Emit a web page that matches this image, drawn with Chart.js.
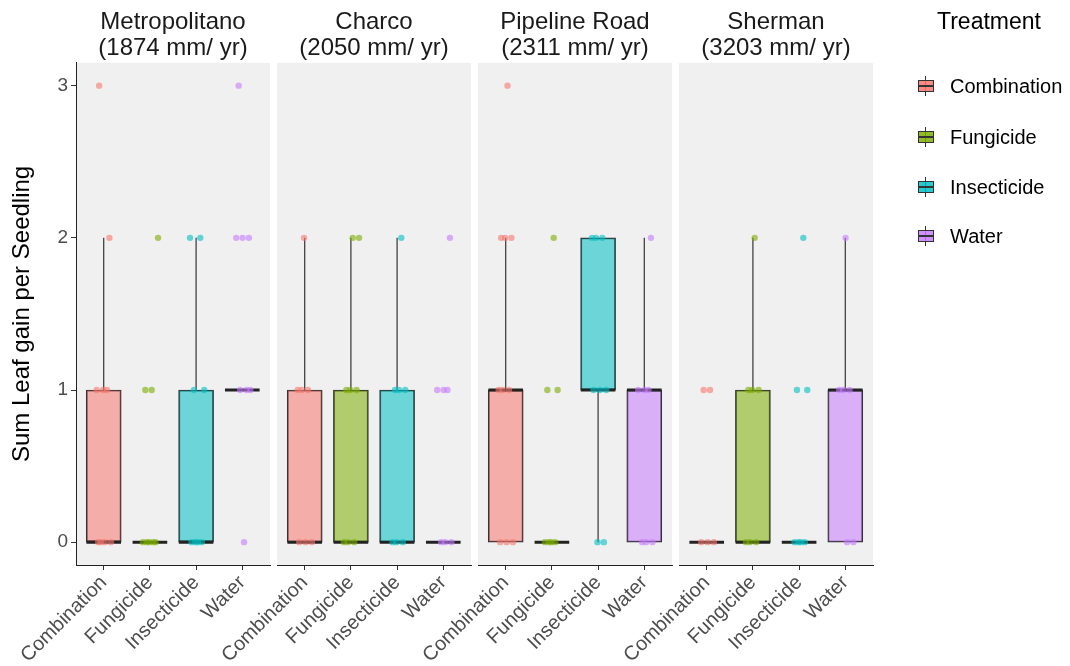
<!DOCTYPE html>
<html>
<head>
<meta charset="utf-8">
<script src="https://cdn.jsdelivr.net/npm/chart.js@4.4.1/dist/chart.umd.min.js"></script>
<style>
  body { margin: 0; background: #fff; font-family: "Liberation Sans", Arial, sans-serif; }
  #wrap { position: relative; width: 1070px; height: 666px; }
  #wrap canvas { position: absolute; left: 0; top: 0; }
  #legend { position: absolute; left: 905px; top: 0; width: 165px; height: 300px; }
  #legend .ttl { position: absolute; left: 32px; top: 8px; font-size: 23px; color: #000; }
  #legend .item { position: absolute; left: 45px; font-size: 20px; color: #000; line-height: 24px; }
  .key { position: absolute; left: 13px; width: 16px; height: 20px; }
  .key .wh { position: absolute; left: 7px; top: 0; width: 1px; height: 20px; background: #333; }
  .key .bx { position: absolute; left: 0; top: 4px; width: 14px; height: 10px; border: 1px solid #333; }
  .key .md { position: absolute; left: 0; top: 9px; width: 16px; height: 2px; background: #333; }
</style>
</head>
<body>
<div id="wrap">
  <canvas id="c0" width="1070" height="666"></canvas>
  <canvas id="c1" width="1070" height="666"></canvas>
  <canvas id="c2" width="1070" height="666"></canvas>
  <canvas id="c3" width="1070" height="666"></canvas>
  <div id="legend"></div>
</div>
<script>
// sites (facets) and treatments
var sites = [
  ['Metropolitano', '(1874 mm/ yr)'],
  ['Charco', '(2050 mm/ yr)'],
  ['Pipeline Road', '(2311 mm/ yr)'],
  ['Sherman', '(3203 mm/ yr)']
];
var treatments = ['Combination', 'Fungicide', 'Insecticide', 'Water'];
var colors = ['#F8766D', '#7CAE00', '#00BFC4', '#C77CFF'];
var yTicks = [0, 1, 2, 3];

// box statistics, one row per site, one value per treatment
var q1 =        [[0, 0, 0, 1], [0, 0, 0, 0], [0, 0, 1, 0], [0, 0, 0, 0]];
var medians =   [[0, 0, 0, 1], [0, 0, 0, 0], [1, 0, 1, 1], [0, 0, 0, 1]];
var q3 =        [[1, 0, 1, 1], [1, 1, 1, 0], [1, 0, 2, 1], [0, 1, 0, 1]];
var whiskLow =  [[0, 0, 0, 1], [0, 0, 0, 0], [0, 0, 0, 0], [0, 0, 0, 0]];
var whiskHigh = [[2, 0, 2, 1], [2, 2, 2, 0], [2, 0, 2, 2], [0, 2, 0, 2]];

// raw observations (jittered points)
var obs = [
  [[0, 0, 0, 0, 1, 1, 1, 2, 3], [0, 0, 0, 0, 0, 1, 1, 2], [0, 0, 0, 0, 1, 1, 2, 2], [0, 1, 1, 1, 2, 2, 2, 3]],
  [[0, 0, 0, 1, 1, 1, 2], [0, 0, 0, 1, 1, 1, 2, 2], [0, 0, 0, 1, 1, 1, 2], [0, 0, 0, 1, 1, 1, 2]],
  [[0, 0, 0, 1, 1, 1, 2, 2, 2, 3], [0, 0, 0, 0, 1, 1, 2], [0, 0, 1, 1, 1, 2, 2, 2], [0, 0, 0, 1, 1, 1, 2]],
  [[0, 0, 0, 1, 1], [0, 0, 0, 1, 1, 1, 2], [0, 0, 0, 0, 1, 1, 2], [0, 0, 1, 1, 1, 2]]
];

// panel pixel extents
var panelLeft = [76, 277, 478, 679];
var panelRight = [270, 471, 672, 873];

function alpha(hex, a) {
  var r = parseInt(hex.slice(1, 3), 16), g = parseInt(hex.slice(3, 5), 16), b = parseInt(hex.slice(5, 7), 16);
  return 'rgba(' + r + ',' + g + ',' + b + ',' + a + ')';
}
function jitter(k) {
  return (((k * 0.381966) + 0.17) % 1 - 0.5) * 0.36;
}

var panelBg = {
  id: 'panelBg',
  beforeDraw: function (chart) {
    var a = chart.chartArea, ctx = chart.ctx;
    ctx.save();
    ctx.fillStyle = '#F0F0F0';
    ctx.fillRect(a.left, a.top, a.right - a.left, a.bottom - a.top);
    ctx.restore();
  }
};

var boxExtras = {
  id: 'boxExtras',
  afterDatasetDraw: function (chart, args, opts) {
    if (args.index !== 0) return;
    var p = opts.panel, x = chart.scales.x, y = chart.scales.y, ctx = chart.ctx;
    var half = (x.getPixelForValue(1.375) - x.getPixelForValue(1));
    ctx.save();
    for (var t = 0; t < treatments.length; t++) {
      var cx = x.getPixelForValue(t + 1);
      ctx.strokeStyle = '#333';
      ctx.lineWidth = 1.2;
      ctx.beginPath();
      ctx.moveTo(cx, y.getPixelForValue(q3[p][t]));
      ctx.lineTo(cx, y.getPixelForValue(whiskHigh[p][t]));
      ctx.moveTo(cx, y.getPixelForValue(q1[p][t]));
      ctx.lineTo(cx, y.getPixelForValue(whiskLow[p][t]));
      ctx.stroke();
      ctx.strokeStyle = '#222';
      ctx.lineWidth = 3;
      ctx.beginPath();
      var my = y.getPixelForValue(medians[p][t]);
      ctx.moveTo(cx - half, my);
      ctx.lineTo(cx + half, my);
      ctx.stroke();
    }
    ctx.restore();
  }
};

function buildChart(p) {
  var datasets = [{
    type: 'bar',
    data: treatments.map(function (_, t) { return { x: t + 1, y: [q1[p][t], q3[p][t]] }; }),
    backgroundColor: colors.map(function (c) { return alpha(c, 0.55); }),
    borderColor: '#333',
    borderWidth: 1.2,
    borderSkipped: false,
    barThickness: 35,
    order: 2
  }];
  treatments.forEach(function (name, t) {
    datasets.push({
      type: 'scatter',
      label: name,
      data: obs[p][t].map(function (v, k) { return { x: t + 1 + jitter(k + t * 3), y: v }; }),
      backgroundColor: alpha(colors[t], 0.6),
      borderWidth: 0,
      pointRadius: 3.2,
      order: 1
    });
  });

  new Chart(document.getElementById('c' + p), {
    type: 'scatter',
    data: { datasets: datasets },
    plugins: [panelBg, boxExtras],
    options: {
      responsive: false,
      animation: false,
      devicePixelRatio: 1,
      layout: { padding: { left: p === 0 ? 0 : panelLeft[p], right: 1070 - panelRight[p], top: 0, bottom: 0 } },
      plugins: {
        legend: { display: false },
        tooltip: { enabled: false },
        boxExtras: { panel: p },
        title: {
          display: true,
          fullSize: false,
          text: sites[p],
          color: '#1a1a1a',
          font: { family: '"Liberation Sans", Arial, sans-serif', size: 24, weight: 'normal', lineHeight: 1.08 },
          padding: { top: 9, bottom: 2 }
        }
      },
      scales: {
        x: {
          type: 'linear',
          min: 0.4,
          max: 4.6,
          offset: false,
          afterBuildTicks: function (s) { s.ticks = treatments.map(function (_, i) { return { value: i + 1 }; }); },
          afterFit: function (s) { s.height = 101; },
          ticks: {
            autoSkip: false,
            minRotation: 45,
            maxRotation: 45,
            padding: 1,
            color: '#4D4D4D',
            font: { family: '"Liberation Sans", Arial, sans-serif', size: 20 },
            callback: function (v) { return treatments[v - 1]; }
          },
          grid: { display: true, offset: false, drawOnChartArea: false, drawTicks: true, tickLength: 5, tickColor: '#333' },
          border: { display: true, color: '#222', width: 1 }
        },
        y: {
          display: p === 0,
          min: -0.15,
          max: 3.15,
          afterBuildTicks: function (s) { s.ticks = yTicks.map(function (v) { return { value: v }; }); },
          afterFit: function (s) { if (p === 0) s.width = 76; },
          ticks: {
            padding: 3,
            color: '#4D4D4D',
            font: { family: '"Liberation Sans", Arial, sans-serif', size: 19 }
          },
          grid: { display: true, drawOnChartArea: false, drawTicks: true, tickLength: 5, tickColor: '#333' },
          border: { display: true, color: '#222', width: 1 },
          title: {
            display: true,
            text: 'Sum Leaf gain per Seedling',
            color: '#000',
            font: { family: '"Liberation Sans", Arial, sans-serif', size: 24 },
            padding: { top: 8, bottom: 0 }
          }
        }
      }
    }
  });
}

for (var p = 0; p < sites.length; p++) buildChart(p);

// legend
var legend = document.getElementById('legend');
var html = '<div class="ttl">Treatment</div>';
var itemTop = [74, 125, 175, 224];
treatments.forEach(function (name, t) {
  html += '<div class="key" style="top:' + (itemTop[t] + 2) + 'px"><i class="wh"></i>' +
    '<i class="bx" style="background:' + alpha(colors[t], 0.85) + '"></i><i class="md"></i></div>' +
    '<div class="item" style="top:' + itemTop[t] + 'px">' + name + '</div>';
});
legend.innerHTML = html;
</script>
</body>
</html>
